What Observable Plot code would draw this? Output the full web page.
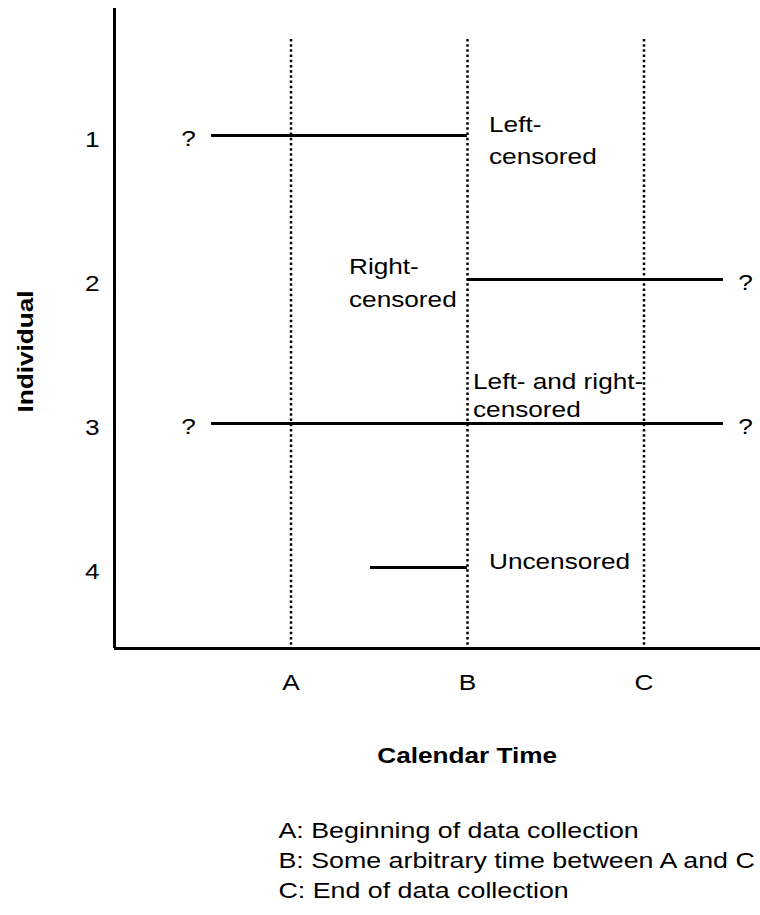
<!DOCTYPE html>
<html>
<head>
<meta charset="utf-8">
<script src="https://cdn.jsdelivr.net/npm/d3@7"></script>
<script src="https://cdn.jsdelivr.net/npm/@observablehq/plot@0.6"></script>
<style>
  html, body { margin: 0; padding: 0; background: #fff; }
</style>
</head>
<body>
<div id="chart"></div>
<script>
// ---- data ----
const individuals = [1, 2, 3, 4];
const starts = [0.55, 2, 0.55, 1.45];
const ends = [2, 3.45, 3.45, 2];
const leftUnknown = [true, false, true, false];
const rightUnknown = [false, true, true, false];
const timePoints = [1, 2, 3];
const timeLabels = ["A", "B", "C"];
const statusLabels = ["Left-\ncensored", "Right-\ncensored", "Left- and right-\ncensored", "Uncensored"];
const xTitle = "Calendar Time";
const yTitle = "Individual";
const legendLines = [
  "A: Beginning of data collection",
  "B: Some arbitrary time between A and C",
  "C: End of data collection"
];

// ---- layout ----
const xDomain = [0, 3.66];
const yTop = 0.118, yBottom = 4.5625, dottedTop = 0.333;
const FS = 22;
const idx = individuals.map((_, i) => i);

const note = (i, opts) => Plot.text([i], {
  x: () => timePoints[1],
  y: j => individuals[j],
  text: j => statusLabels[j],
  textAnchor: "start",
  lineAnchor: "bottom",
  fontSize: FS,
  ...opts
});

const chart = Plot.plot({
  width: 760,
  height: 915,
  marginLeft: 114,
  marginRight: 0,
  marginTop: 8,
  marginBottom: 267,
  style: {fontFamily: "'Liberation Sans', Arial, sans-serif", background: "#fff", color: "#000"},
  x: {domain: xDomain},
  y: {domain: [yTop, yBottom], reverse: true},
  marks: [
    // dotted reference times
    Plot.ruleX(timePoints, {y1: dottedTop, y2: yBottom, stroke: "#000", strokeWidth: 2.5, strokeDasharray: "2.5,2.7"}),
    // observation segments
    Plot.ruleY(idx, {y: i => individuals[i], x1: i => starts[i], x2: i => ends[i], stroke: "#000", strokeWidth: 3}),
    // question marks
    Plot.text(idx.filter(i => leftUnknown[i]), {x: i => starts[i], y: i => individuals[i], text: () => "?", textAnchor: "middle", lineAnchor: "bottom", dx: -23, dy: 10, fontSize: FS}),
    Plot.text(idx.filter(i => rightUnknown[i]), {x: i => ends[i], y: i => individuals[i], text: () => "?", textAnchor: "middle", lineAnchor: "bottom", dx: 22, dy: 10, fontSize: FS}),
    // status annotations
    note(0, {dx: 21.5, dy: 28, lineHeight: 1.41}),
    note(1, {dx: -118.5, dy: 27.5, lineHeight: 1.52}),
    note(2, {dx: 5.5, dy: -7, lineHeight: 1.23}),
    note(3, {dx: 21.5, dy: 1}),
    // axes lines
    Plot.ruleX([0], {stroke: "#000", strokeWidth: 3}),
    Plot.ruleY([yBottom], {stroke: "#000", strokeWidth: 3}),
    // tick labels
    Plot.axisY(individuals, {tickSize: 0, tickPadding: 15, fontSize: FS, dy: 4, tickFormat: d => String(d), label: null}),
    Plot.axisX(timePoints, {tickSize: 0, tickPadding: 25.4, fontSize: FS, tickFormat: d => timeLabels[d - 1], label: null}),
    // titles
    Plot.text([yTitle], {frameAnchor: "left", rotate: -90, textAnchor: "middle", lineAnchor: "bottom", fontWeight: "bold", fontSize: FS, dx: -81.3, dy: 23}),
    Plot.text([xTitle], {frameAnchor: "bottom", textAnchor: "middle", lineAnchor: "bottom", fontWeight: "bold", fontSize: FS, dx: 29.7, dy: 114}),
    // legend
    Plot.text([legendLines.join("\n")], {frameAnchor: "bottom-left", textAnchor: "start", lineAnchor: "bottom", lineHeight: 1.333, fontSize: 22.5, dx: 164, dy: 249})
  ]
});

document.getElementById("chart").append(chart);

// widen glyphs horizontally to match the reference's stretched lettering
const STRETCH = 1.19;
chart.querySelectorAll("text").forEach(t => {
  const parts = t.querySelectorAll("tspan");
  (parts.length ? Array.from(parts) : [t]).forEach(el => {
    const w = el.getComputedTextLength();
    if (w > 0) {
      el.setAttribute("textLength", (w * STRETCH).toFixed(2));
      el.setAttribute("lengthAdjust", "spacingAndGlyphs");
    }
  });
});
</script>
</body>
</html>
